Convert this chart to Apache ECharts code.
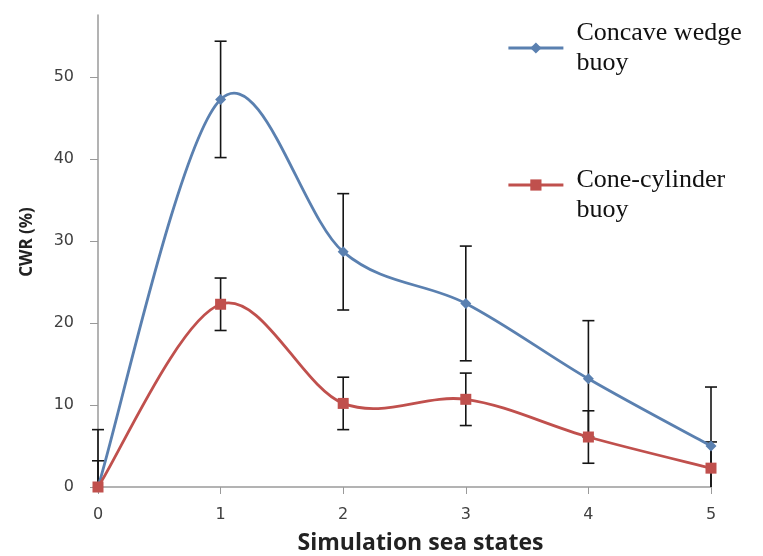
<!DOCTYPE html>
<html>
<head>
<meta charset="utf-8">
<script src="https://cdn.jsdelivr.net/npm/echarts@6/dist/echarts.min.js"></script>
<style>
  html, body { margin: 0; padding: 0; background: #fff; }
  #chart { width: 763px; height: 556px; }
</style>
</head>
<body>
<div id="chart"></div>
<script>
// Sea states on the x axis
const seaStates = [0, 1, 2, 3, 4, 5];
// Capture width ratio (%) and its error half-widths
const concaveWedge = [0, 47.3, 28.7, 22.4, 13.2, 5.0];
const concaveWedgeErr = [7.0, 7.1, 7.1, 7.0, 7.1, 7.2];
const coneCylinder = [0, 22.3, 10.2, 10.7, 6.1, 2.3];
const coneCylinderErr = [3.2, 3.2, 3.2, 3.2, 3.2, 3.2];
const yTicks = [0, 10, 20, 30, 40, 50];
const xTicks = [0, 1, 2, 3, 4, 5];

const NAME_A = 'Concave wedge\nbuoy';
const NAME_B = 'Cone-cylinder\nbuoy';
const BLUE = '#5A80B0';
const RED = '#C0504D';
const LINE_W = 2.8;

function pairs(ys) { return seaStates.map((x, i) => [x, ys[i]]); }
function triples(ys, es) { return seaStates.map((x, i) => [x, ys[i], es[i]]); }

// Vertical error bar with caps; clipped at the x axis (y = 0)
function errorBar(params, api) {
  const x = api.value(0), y = api.value(1), e = api.value(2);
  const lo = Math.max(y - e, 0), hi = y + e;
  const pHi = api.coord([x, hi]);
  const pLo = api.coord([x, lo]);
  const w = 6;
  const children = [
    { type: 'line', shape: { x1: pHi[0], y1: pHi[1], x2: pLo[0], y2: pLo[1] } },
    { type: 'line', shape: { x1: pHi[0] - w, y1: pHi[1], x2: pHi[0] + w, y2: pHi[1] } }
  ];
  if (y - e >= 0) {
    children.push({ type: 'line', shape: { x1: pLo[0] - w, y1: pLo[1], x2: pLo[0] + w, y2: pLo[1] } });
  }
  children.forEach(c => { c.style = { stroke: '#151515', lineWidth: 1.6 }; });
  return { type: 'group', children };
}

// Spreadsheet-style smoothed curve: one cubic Bezier per segment,
// tangents from the neighbouring points (Catmull-Rom, 1/6 weighting)
function smoothCurve(ys, color) {
  const n = seaStates.length;
  return function (params, api) {
    const i = params.dataIndex;
    if (i >= n - 1) return { type: 'group', children: [] };
    const P = k => {
      const j = Math.min(Math.max(k, 0), n - 1);
      return api.coord([seaStates[j], ys[j]]);
    };
    const p0 = P(i - 1), p1 = P(i), p2 = P(i + 1), p3 = P(i + 2);
    return {
      type: 'bezierCurve',
      shape: {
        x1: p1[0], y1: p1[1],
        x2: p2[0], y2: p2[1],
        cpx1: p1[0] + (p2[0] - p0[0]) / 6,
        cpy1: p1[1] + (p2[1] - p0[1]) / 6,
        cpx2: p2[0] - (p3[0] - p1[0]) / 6,
        cpy2: p2[1] - (p3[1] - p1[1]) / 6
      },
      style: { stroke: color, lineWidth: LINE_W, fill: null }
    };
  };
}

const legendText = {
  fontFamily: 'Liberation Serif',
  fontSize: 26,
  lineHeight: 30,
  color: '#111',
  padding: [0, 0, 0, 8]
};

const chart = echarts.init(document.getElementById('chart'));
chart.setOption({
  animation: false,
  backgroundColor: '#fff',
  grid: {
    left: 98, right: 52, top: 15, bottom: 69,
    containLabel: false,
    outerBoundsMode: 'none'
  },
  legend: [
    {
      left: 507, top: 18, padding: 0,
      itemWidth: 55, itemHeight: 14,
      data: [{ name: NAME_A, lineStyle: { color: BLUE, width: LINE_W, opacity: 1 } }],
      textStyle: legendText
    },
    {
      left: 507, top: 145, padding: 0,
      itemWidth: 55, itemHeight: 14,
      data: [{ name: NAME_B, lineStyle: { color: RED, width: LINE_W, opacity: 1 } }],
      // a short blank first line drops the two text lines below the marker
      formatter: name => '{s| }\n' + name,
      textStyle: Object.assign({
        rich: { s: { fontSize: 10, lineHeight: 20 } }
      }, legendText)
    }
  ],
  xAxis: {
    type: 'value',
    min: 0,
    max: 5,
    interval: 1,
    name: 'Simulation sea states',
    nameLocation: 'middle',
    nameGap: 45,
    nameTextStyle: {
      fontFamily: 'Open Sans', fontWeight: 'bold', fontSize: 23, color: '#222',
      padding: [0, 0, 0, 32]
    },
    axisLine: { lineStyle: { color: '#9a9a9a', width: 1.5 } },
    axisTick: { show: true, length: 7, lineStyle: { color: '#9a9a9a' } },
    axisLabel: {
      margin: 20,
      fontFamily: 'DejaVu Sans',
      fontSize: 16,
      color: '#404040',
      formatter: v => xTicks.includes(v) ? String(v) : ''
    },
    splitLine: { show: false }
  },
  yAxis: {
    type: 'value',
    min: 0,
    max: 57.6,
    interval: 10,
    name: 'CWR (%)',
    nameLocation: 'middle',
    nameGap: 62,
    nameRotate: 90,
    nameTextStyle: {
      fontFamily: 'Open Sans', fontWeight: 'bold', fontSize: 17, color: '#222',
      padding: [0, 0, 0, 18]
    },
    axisLine: { show: true, lineStyle: { color: '#9a9a9a', width: 1.5 } },
    axisTick: { show: true, length: 8, lineStyle: { color: '#9a9a9a' }, customValues: yTicks },
    axisLabel: {
      margin: 24,
      fontFamily: 'DejaVu Sans',
      fontSize: 16,
      color: '#404040',
      customValues: yTicks
    },
    splitLine: { show: false }
  },
  series: [
    // curves
    {
      type: 'custom',
      data: pairs(concaveWedge),
      encode: { x: 0, y: 1 },
      renderItem: smoothCurve(concaveWedge, BLUE),
      z: 3,
      silent: true
    },
    {
      type: 'custom',
      data: pairs(coneCylinder),
      encode: { x: 0, y: 1 },
      renderItem: smoothCurve(coneCylinder, RED),
      z: 3,
      silent: true
    },
    // markers (and legend entries)
    {
      name: NAME_A,
      type: 'line',
      data: pairs(concaveWedge),
      symbol: 'diamond',
      symbolSize: 11,
      z: 4,
      lineStyle: { color: BLUE, width: LINE_W, opacity: 0 },
      itemStyle: { color: BLUE }
    },
    {
      name: NAME_B,
      type: 'line',
      data: pairs(coneCylinder),
      symbol: 'rect',
      symbolSize: 11,
      z: 4,
      lineStyle: { color: RED, width: LINE_W, opacity: 0 },
      itemStyle: { color: RED }
    },
    // error bars
    {
      type: 'custom',
      data: triples(concaveWedge, concaveWedgeErr),
      encode: { x: 0, y: 1 },
      renderItem: errorBar,
      z: 2,
      silent: true
    },
    {
      type: 'custom',
      data: triples(coneCylinder, coneCylinderErr),
      encode: { x: 0, y: 1 },
      renderItem: errorBar,
      z: 2,
      silent: true
    }
  ]
});
</script>
</body>
</html>
